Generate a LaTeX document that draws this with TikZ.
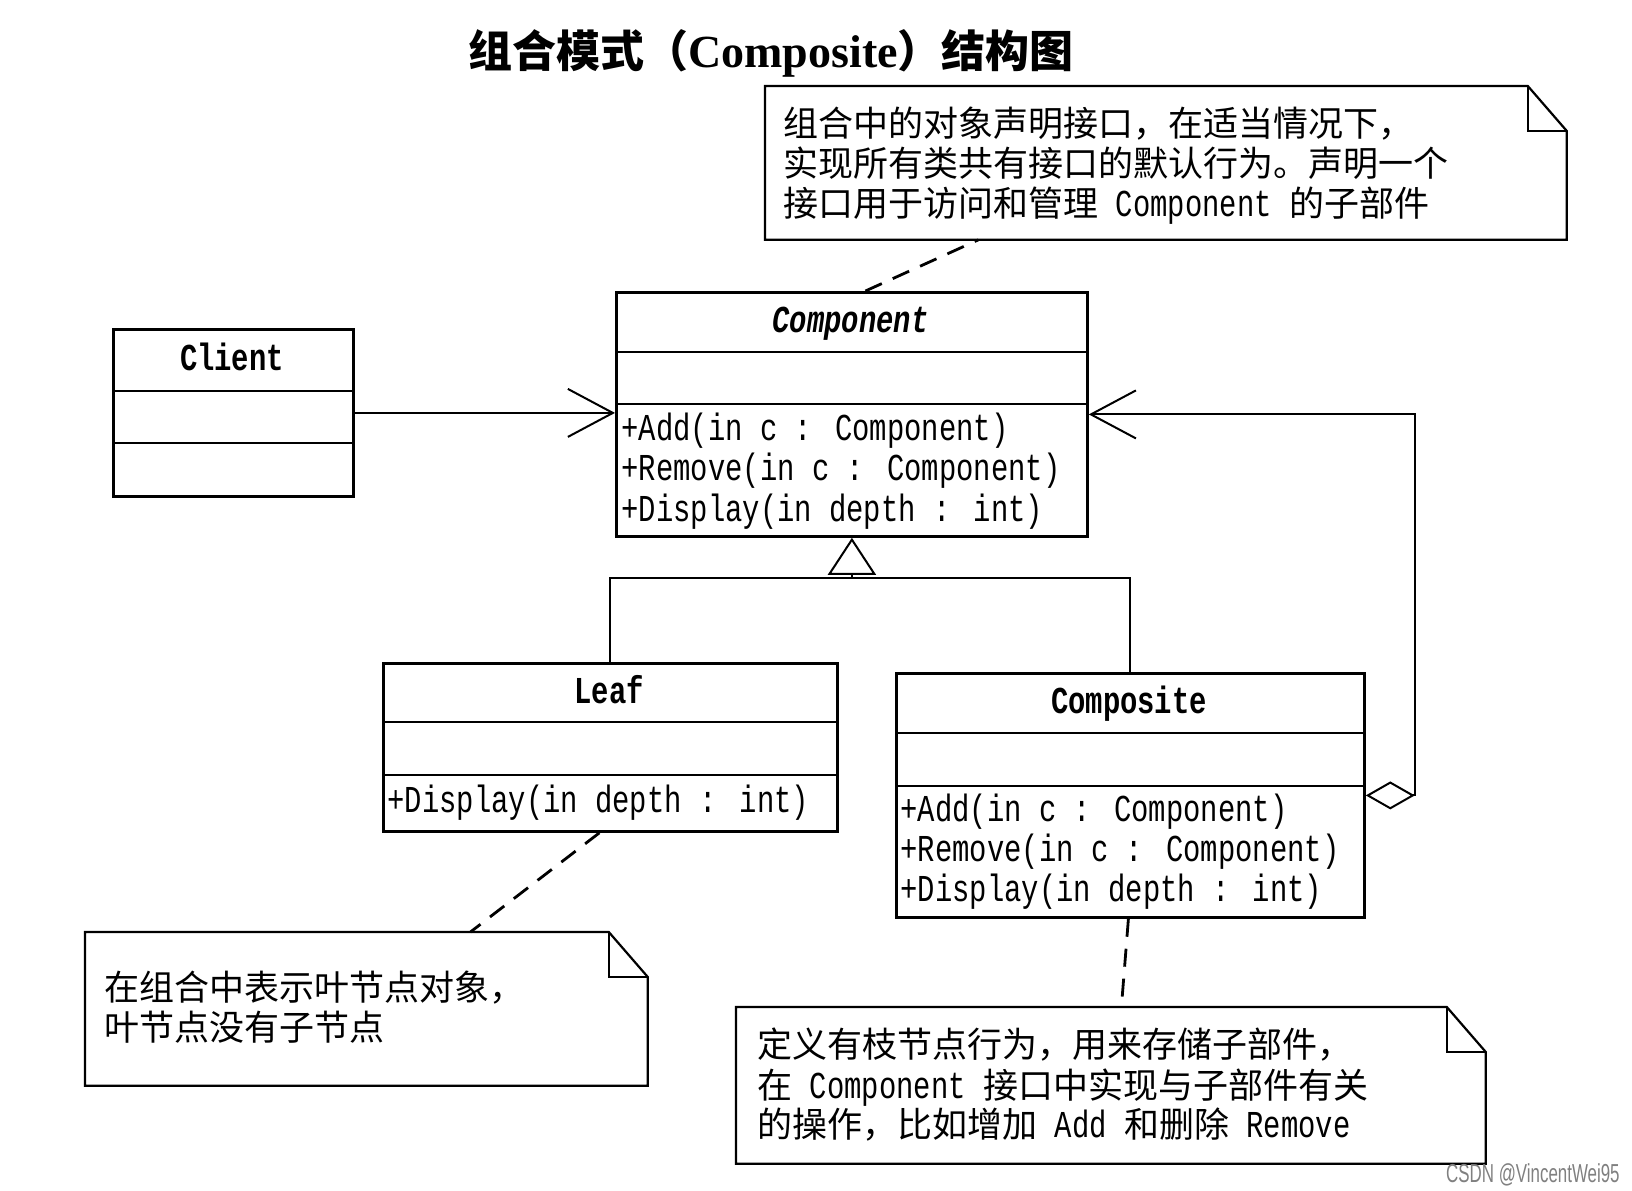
\documentclass[tikz,border=0pt]{standalone}
\usepackage{fontspec}
\setmainfont{Liberation Serif}
\newfontfamily\cjk{Noto Sans CJK SC}
\newfontfamily\monofam[FakeStretch=0.76]{Liberation Mono}
\newfontfamily\wmfam[FakeStretch=0.65]{Liberation Sans}
\usetikzlibrary{arrows.meta}
\newcommand{\mtxt}[1]{{\monofam\fontsize{19pt}{20pt}\selectfont #1}}
\newcommand{\drawnote}[1]{%
  \draw[noteline] (#1.north west) -- ([xshift=-19.5pt]#1.north east) -- ([yshift=-22.5pt]#1.north east) -- (#1.south east) -- (#1.south west) -- cycle;
  \draw[noteline] ([xshift=-19.5pt]#1.north east) |- ([yshift=-22.5pt]#1.north east);}
\tikzset{
  classbox/.style={draw, line width=1.4pt, inner sep=0, anchor=north west},
  divline/.style={line width=1.4pt},
  notebox/.style={inner sep=0, anchor=north west},
  noteline/.style={line width=1.1pt, line join=miter},
  cjktext/.style={font=\cjk\fontsize{17.5pt}{20pt}\selectfont, inner sep=0, anchor=base west},
  optext/.style={font=\monofam\fontsize{19pt}{20pt}\selectfont, inner sep=0, anchor=base west},
  clstitle/.style={font=\monofam\bfseries\fontsize{19pt}{20pt}\selectfont, inner sep=0, anchor=base},
  conn/.style={line width=1pt},
  notelink/.style={line width=1.4pt, dash pattern=on 9pt off 6pt},
}
\begin{document}
\begin{tikzpicture}[x=0.5pt,y=-0.5pt]
\useasboundingbox[fill=white] (0,0) rectangle (1632,1190);

% title
\node[inner sep=0, anchor=base, font=\bfseries] (title) at (771,67)
  {{\cjk\fontsize{22pt}{24pt}\selectfont 组合模式（}{\fontsize{23pt}{24pt}\selectfont Composite}{\cjk\fontsize{22pt}{24pt}\selectfont ）结构图}};

% Client
\node[classbox, minimum width=120pt, minimum height=83.5pt] (client) at (112,328) {};
\draw[divline] ([yshift=-31.5pt]client.north west) -- ([yshift=-31.5pt]client.north east);
\draw[divline] ([yshift=-57.5pt]client.north west) -- ([yshift=-57.5pt]client.north east);
\node[clstitle] (clientname) at (232,370.5) {Client};

% Component
\node[classbox, minimum width=235.5pt, minimum height=122pt] (comp) at (615,291) {};
\draw[divline] ([yshift=-30.5pt]comp.north west) -- ([yshift=-30.5pt]comp.north east);
\draw[divline] ([yshift=-56.5pt]comp.north west) -- ([yshift=-56.5pt]comp.north east);
\node[clstitle, font=\monofam\bfseries\itshape\fontsize{19pt}{20pt}\selectfont] (compname) at (850.5,332.5) {Component};
\node[optext] (compop1) at (621,440) {+Add(in c : Component)};
\node[optext] (compop2) at (621,480) {+Remove(in c : Component)};
\node[optext] (compop3) at (621,521) {+Display(in depth : int)};

% Leaf
\node[classbox, minimum width=227pt, minimum height=84pt] (leaf) at (382,662) {};
\draw[divline] ([yshift=-30pt]leaf.north west) -- ([yshift=-30pt]leaf.north east);
\draw[divline] ([yshift=-56.5pt]leaf.north west) -- ([yshift=-56.5pt]leaf.north east);
\node[clstitle] (leafname) at (609,703) {Leaf};
\node[optext] (leafop1) at (387,812) {+Display(in depth : int)};

% Composite
\node[classbox, minimum width=234pt, minimum height=122pt] (compo) at (895,672) {};
\draw[divline] ([yshift=-30.5pt]compo.north west) -- ([yshift=-30.5pt]compo.north east);
\draw[divline] ([yshift=-57pt]compo.north west) -- ([yshift=-57pt]compo.north east);
\node[clstitle] (componame) at (1129,713.5) {Composite};
\node[optext] (compoop1) at (900,821) {+Add(in c : Component)};
\node[optext] (compoop2) at (900,861) {+Remove(in c : Component)};
\node[optext] (compoop3) at (900,901) {+Display(in depth : int)};

% notes
\node[notebox, minimum width=400.5pt, minimum height=76.5pt] (n1) at (765,86) {};
\drawnote{n1}
\node[cjktext] (n1l1) at (783,136) {组合中的对象声明接口，在适当情况下，};
\node[cjktext] (n1l2) at (783,176) {实现所有类共有接口的默认行为。声明一个};
\node[cjktext] (n1l3) at (783,216) {接口用于访问和管理\mtxt{\ Component\ }的子部件};

\node[notebox, minimum width=281pt, minimum height=76.5pt] (n2) at (85,932) {};
\drawnote{n2}
\node[cjktext] (n2l1) at (104,1000) {在组合中表示叶节点对象，};
\node[cjktext] (n2l2) at (104,1040) {叶节点没有子节点};

\node[notebox, minimum width=374.5pt, minimum height=78pt] (n3) at (736,1007) {};
\drawnote{n3}
\node[cjktext] (n3l1) at (757,1057) {定义有枝节点行为，用来存储子部件，};
\node[cjktext] (n3l2) at (757,1098) {在\mtxt{\ Component\ }接口中实现与子部件有关};
\node[cjktext] (n3l3) at (757,1137) {的操作，比如增加\mtxt{\ Add\ }和删除\mtxt{\ Remove}};

% connectors
\draw[conn, -{Straight Barb[length=22.5pt,width=24pt]}] (client.east) -- (client.east -| comp.west);
\draw[conn, {Diamond[open,length=24.5pt,width=14pt]}-{Straight Barb[length=22.5pt,width=24pt]}]
  (compo.east) -- ++(49,0) |- (comp.east);
\coordinate (gj) at (comp.south |- 0,578);
\draw[conn] (leaf.north) |- (gj) -| (compo.north);
\draw[conn, -{Triangle[open,length=18.5pt,width=24pt]}] (gj) -- (comp.south);

\draw[notelink] ([xshift=6.75pt]comp.north) -- ([xshift=-93.75pt]n1.south);
\draw[notelink] ([xshift=-5.5pt]leaf.south) -- ([xshift=52pt]n2.north);
\draw[notelink] ([xshift=-1pt]compo.south) -- ([xshift=5.25pt]n3.north);

% watermark
\node[inner sep=0, anchor=base east, font=\wmfam\fontsize{13pt}{14pt}\selectfont, text=gray] (wm) at (1620,1182) {CSDN @VincentWei95};
\end{tikzpicture}
\end{document}
